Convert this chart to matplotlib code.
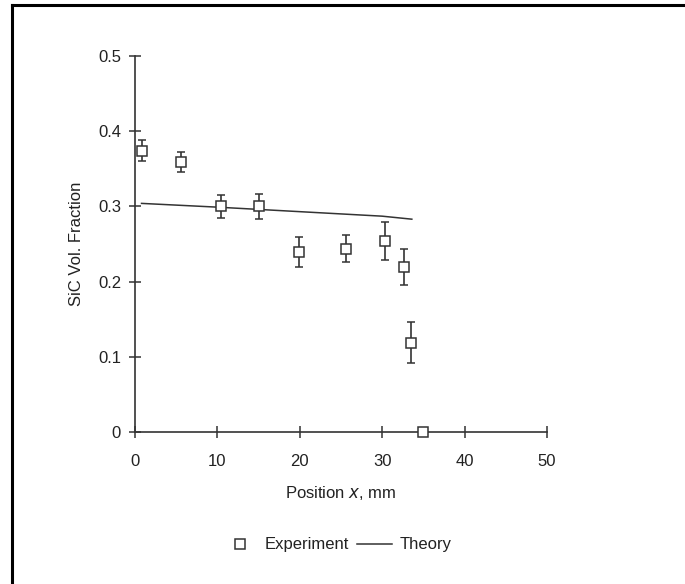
import numpy as np
import matplotlib
matplotlib.use("Agg")
import matplotlib.pyplot as plt
from matplotlib.lines import Line2D

plt.rcParams['font.family'] = ['Liberation Sans', 'DejaVu Sans']

# experiment
pos = [0.9, 5.6, 10.4, 15.1, 19.9, 25.6, 30.4, 32.6, 33.5, 35.0]
frac = [0.374, 0.359, 0.300, 0.300, 0.239, 0.244, 0.254, 0.219, 0.119, 0.0]
err = [0.014, 0.013, 0.015, 0.017, 0.020, 0.018, 0.025, 0.024, 0.027, 0.0]

# theory curve
th_pos = [0.8, 10, 20, 30, 33.6]
th_frac = [0.304, 0.299, 0.293, 0.287, 0.283]

col = '#333333'

fig = plt.figure(figsize=(6.85, 5.84), dpi=100)
ax = fig.add_axes([0.197, 0.2603, 0.6015, 0.6438])

ax.plot(th_pos, th_frac, color=col, lw=1.1)
ax.errorbar(pos[:-1], frac[:-1], yerr=err[:-1], fmt='none', ecolor=col,
            elinewidth=1.2, capsize=3.2, capthick=1.1)
ax.plot(pos, frac, 's', ms=6.5, mfc='white', mec=col, mew=1.1, clip_on=False, zorder=5)

ax.set_xlim(0, 50)
ax.set_ylim(0, 0.5)
ax.set_xticks([0, 10, 20, 30, 40, 50])
ax.set_yticks([0, 0.1, 0.2, 0.3, 0.4, 0.5])
ax.set_yticklabels(['0', '0.1', '0.2', '0.3', '0.4', '0.5'])
for s in ['top', 'right']:
    ax.spines[s].set_visible(False)
for s in ['left', 'bottom']:
    ax.spines[s].set_color(col)
    ax.spines[s].set_linewidth(1.2)
ax.tick_params(direction='inout', length=8, width=1.1, color=col,
               labelsize=12, labelcolor='#222222', pad=6)
ax.tick_params(axis='x', pad=12)

ax.set_xlabel('Position $\\it{x}$, mm', fontsize=12, color='#222222', labelpad=10.5)
ax.set_ylabel('SiC Vol. Fraction', fontsize=12, color='#222222', labelpad=10)

handles = [Line2D([], [], ls='none', marker='s', ms=6.5, mfc='white', mec=col, mew=1.1),
           Line2D([], [], color=col, lw=1.1)]
fig.legend(handles, ['Experiment', 'Theory'], loc='center', bbox_to_anchor=(0.492, 0.067),
           ncol=2, frameon=False, fontsize=12, handlelength=2.1, columnspacing=0.5,
           handletextpad=0.45, labelcolor='#222222')

# scan border: top and left
fig.add_artist(Line2D([11.5 / 685, 11.5 / 685], [0, 1 - 5 / 584], color='black', lw=2.2,
                      transform=fig.transFigure))
fig.add_artist(Line2D([11.5 / 685, 1], [1 - 5 / 584, 1 - 5 / 584], color='black', lw=2.2,
                      transform=fig.transFigure))

fig.savefig('out.png', dpi=100)
